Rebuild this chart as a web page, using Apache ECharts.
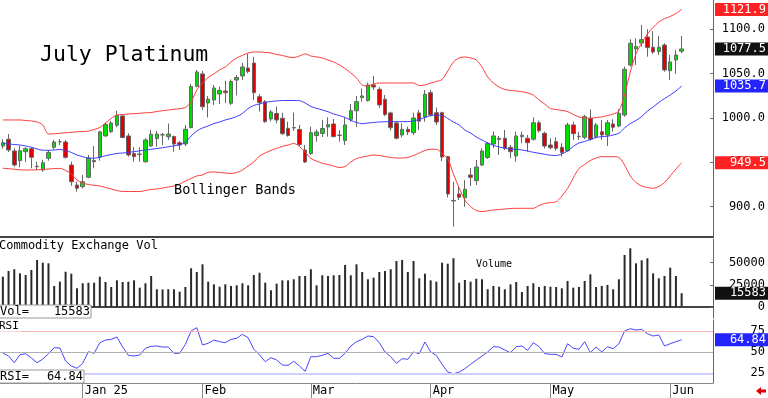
<!DOCTYPE html>
<html>
<head>
<meta charset="utf-8">
<script src="https://cdn.jsdelivr.net/npm/echarts@6/dist/echarts.min.js"></script>
<style>
  html, body { margin: 0; padding: 0; background: #fff; }
  #chart { width: 768px; height: 398px; }
</style>
</head>
<body>
<div id="chart"></div>
<script>
const FONT = "DejaVu Sans Mono"
const SLOTS = 125

const tickIndex = [14, 35, 54, 75, 96, 117]
const tickLabels = ["Jan 25", "Feb", "Mar", "Apr", "May", "Jun"]
const priceTicks = [900, 950, 1000, 1050, 1100]
const volumeTicks = [0, 25000, 50000]
const rsiTicks = [25, 50, 75]

const open = [968.3, 975.9, 962.7, 951.8, 961.9, 965.3, 945.5, 941.3, 954.5, 966.9,
  973.0, 972.8, 946.9, 924.4, 922.5, 933.1, 952.0, 955.9, 979.6, 984.4,
  991.6, 1002.1, 979.6, 959.9, 959.2, 950.6, 968.3, 976.8, 981.0, 978.8,
  979.0, 972.0, 970.6, 989.1, 1035.5, 1049.4, 1016.7, 1020.1, 1026.8, 1030.2,
  1016.4, 1042.6, 1047.1, 1056.1, 1061.7, 1023.8, 1018.2, 998.7, 1004.9, 999.5,
  988.2, 989.0, 986.9, 963.8, 959.9, 980.1, 982.4, 989.7, 993.1, 980.6,
  974.5, 998.4, 1008.0, 1022.9, 1019.5, 1037.0, 1032.1, 1020.9, 1005.5, 994.2,
  980.7, 987.1, 983.3, 1005.5, 1001.0, 1028.3, 1005.8, 1005.8, 956.3, 907.0,
  914.3, 910.1, 935.7, 929.3, 946.9, 955.4, 970.6, 975.6, 977.0, 966.9,
  957.1, 978.8, 977.0, 975.9, 994.5, 982.6, 969.4, 973.2, 966.9, 963.0,
  992.0, 979.3, 978.1, 999.5, 978.8, 984.4, 980.7, 993.1, 990.8, 1003.2,
  1059.5, 1077.5, 1084.2, 1091.0, 1079.4, 1074.5, 1082.0, 1053.1, 1065.1, 1075.0]

const close = [972.0, 963.8, 946.9, 963.0, 965.3, 955.6, 945.0, 949.5, 961.2, 972.8,
  973.2, 955.6, 928.1, 920.7, 928.1, 954.8, 950.6, 984.1, 992.5, 994.2,
  1002.6, 977.9, 958.2, 956.3, 958.7, 975.1, 981.5, 981.8, 980.7, 981.8,
  970.6, 969.4, 987.1, 1035.3, 1051.6, 1012.5, 1020.9, 1033.6, 1030.8, 1028.3,
  1040.9, 1045.4, 1057.2, 1052.2, 1028.3, 1017.3, 995.7, 1006.6, 997.6, 982.2,
  980.1, 988.6, 970.0, 950.3, 983.3, 984.1, 988.0, 992.3, 978.8, 980.1,
  992.0, 1008.0, 1018.2, 1024.6, 1037.0, 1034.7, 1014.5, 1003.8, 988.9, 977.0,
  987.1, 984.1, 999.8, 996.2, 1026.5, 1003.2, 995.3, 955.9, 914.3, 906.4,
  910.6, 919.6, 933.1, 944.7, 962.7, 971.1, 979.6, 977.0, 965.7, 961.9,
  979.6, 980.4, 972.0, 994.5, 985.5, 968.3, 966.4, 965.7, 960.8, 992.0,
  982.2, 978.8, 1001.3, 975.9, 992.0, 980.7, 994.5, 989.4, 1005.1, 1054.6,
  1083.9, 1080.3, 1088.0, 1079.2, 1074.1, 1079.4, 1053.9, 1062.9, 1070.7, 1077.5]

const low = [965.3, 961.6, 945.0, 944.3, 950.3, 943.2, 941.3, 939.4, 951.8, 964.6,
  969.4, 954.0, 923.6, 916.9, 920.7, 932.0, 943.2, 951.8, 978.8, 982.9,
  989.4, 977.0, 956.3, 950.6, 950.6, 949.5, 967.2, 967.5, 969.4, 975.1,
  961.9, 963.8, 968.3, 988.2, 1034.4, 1008.8, 1000.4, 1014.5, 1015.6, 1016.7,
  1014.5, 1025.2, 1042.6, 1050.1, 1020.1, 1006.9, 994.5, 995.9, 993.9, 980.7,
  978.8, 985.2, 968.3, 949.2, 958.2, 973.2, 978.4, 978.8, 978.1, 973.2,
  969.4, 995.7, 989.7, 1018.2, 1018.2, 1031.3, 1011.1, 1002.1, 985.5, 975.9,
  978.1, 980.7, 980.7, 986.3, 995.7, 1001.5, 992.0, 951.4, 910.4, 877.5,
  907.5, 900.0, 923.3, 924.4, 945.8, 953.7, 966.1, 958.2, 963.8, 954.5,
  950.6, 971.4, 961.9, 974.3, 983.3, 965.7, 964.6, 963.0, 956.3, 961.9,
  975.1, 975.1, 975.9, 974.3, 977.0, 975.1, 968.3, 984.4, 989.4, 1001.3,
  1057.6, 1059.5, 1080.1, 1068.8, 1071.9, 1070.7, 1051.9, 1042.6, 1049.4, 1072.7]

const high = [975.9, 981.8, 965.7, 968.3, 966.9, 966.9, 950.6, 952.6, 963.8, 975.1,
  975.9, 975.1, 950.6, 928.1, 935.7, 958.2, 968.3, 985.5, 994.5, 996.5,
  1008.0, 1003.2, 982.6, 967.2, 966.9, 977.0, 986.3, 985.2, 982.9, 993.6,
  980.1, 973.9, 992.0, 1038.1, 1053.9, 1052.7, 1024.6, 1037.0, 1035.1, 1041.5,
  1043.2, 1048.2, 1061.7, 1071.9, 1068.5, 1026.8, 1020.1, 1008.8, 1012.8, 1005.8,
  995.7, 1006.0, 992.0, 969.4, 990.0, 987.1, 997.6, 1000.6, 998.7, 986.3,
  1000.6, 1015.6, 1024.6, 1033.0, 1039.6, 1047.1, 1034.4, 1025.7, 1006.9, 995.7,
  993.9, 990.0, 1005.8, 1008.8, 1031.3, 1031.3, 1011.6, 1006.9, 957.1, 928.1,
  922.5, 930.0, 943.6, 952.6, 965.7, 972.8, 984.6, 979.6, 986.3, 969.4,
  984.4, 984.4, 980.7, 1000.6, 996.8, 984.4, 977.0, 978.1, 971.4, 994.5,
  995.7, 984.4, 1003.2, 1009.6, 994.5, 997.6, 997.6, 998.4, 1009.6, 1057.6,
  1088.4, 1089.5, 1104.5, 1099.7, 1097.7, 1092.1, 1083.9, 1070.7, 1076.4, 1092.1]

const upperBand = [997.6, 997.6, 997.6, 997.6, 997.0, 996.5, 995.3, 992.0, 981.8, 982.0,
  982.6, 983.2, 983.7, 984.3, 984.6, 985.0, 986.9, 989.1, 994.2, 999.3,
  1003.2, 1003.8, 1004.3, 1004.7, 1005.1, 1005.7, 1006.0, 1007.1, 1008.0, 1008.8,
  1009.6, 1010.3, 1011.6, 1017.8, 1031.3, 1039.2, 1045.4, 1049.4, 1053.9, 1057.2,
  1062.9, 1067.4, 1070.2, 1073.0, 1074.1, 1074.1, 1073.6, 1073.0, 1071.3, 1070.2,
  1068.5, 1067.9, 1069.6, 1071.9, 1069.6, 1068.5, 1067.4, 1065.1, 1062.9, 1059.5,
  1055.5, 1050.5, 1044.9, 1037.0, 1035.8, 1038.1, 1039.2, 1039.2, 1039.2, 1039.2,
  1039.2, 1039.2, 1039.2, 1036.4, 1037.0, 1039.2, 1040.9, 1043.2, 1052.7, 1062.9,
  1067.4, 1068.5, 1067.4, 1065.1, 1057.2, 1046.0, 1039.2, 1034.7, 1031.9, 1030.8,
  1030.2, 1029.4, 1028.0, 1025.7, 1020.1, 1015.6, 1010.5, 1009.4, 1008.3, 1007.1,
  1003.8, 1001.0, 999.8, 999.5, 1000.4, 1001.0, 1002.6, 1004.3, 1007.7, 1025.7,
  1051.6, 1071.9, 1084.2, 1094.4, 1101.7, 1107.9, 1111.6, 1114.1, 1117.4, 1121.9]

const middleBand = [971.1, 970.6, 970.0, 969.4, 968.3, 966.9, 964.9, 963.5, 963.5, 963.8,
  964.4, 963.3, 961.0, 958.2, 956.3, 954.8, 954.5, 955.7, 957.4, 958.7,
  959.9, 960.4, 961.2, 961.9, 962.9, 963.8, 964.6, 965.5, 966.4, 967.4,
  968.5, 969.8, 972.5, 979.6, 985.2, 988.6, 990.8, 993.6, 995.3, 997.6,
  999.3, 1001.5, 1004.9, 1010.5, 1013.9, 1015.6, 1017.3, 1018.4, 1019.0, 1019.5,
  1019.5, 1019.5, 1019.3, 1016.7, 1012.8, 1010.7, 1008.8, 1006.9, 1004.3, 1002.6,
  1000.4, 997.2, 994.8, 993.4, 994.2, 994.8, 995.3, 995.6, 995.7, 995.7,
  995.7, 995.7, 996.5, 998.1, 1000.4, 1002.6, 1003.0, 1002.6, 999.3, 995.3,
  992.0, 986.3, 982.9, 978.4, 975.1, 971.7, 969.1, 967.2, 966.1, 964.9,
  964.6, 963.8, 962.7, 961.2, 960.1, 959.0, 957.9, 957.6, 959.3, 962.7,
  967.8, 971.7, 973.4, 975.6, 977.9, 978.8, 979.3, 980.7, 982.6, 988.6,
  993.6, 997.0, 1001.5, 1007.7, 1012.2, 1017.3, 1021.6, 1025.7, 1030.2, 1035.7]

const lowerBand = [943.2, 942.8, 942.2, 941.5, 941.3, 941.3, 941.5, 941.9, 942.4, 942.9,
  943.1, 940.7, 936.8, 930.0, 926.7, 925.0, 924.1, 923.3, 921.6, 919.9,
  918.2, 917.1, 917.1, 917.1, 917.1, 918.2, 919.4, 919.9, 921.0, 922.2,
  923.3, 925.5, 928.9, 931.7, 934.6, 935.7, 938.7, 939.1, 938.5, 937.9,
  937.4, 938.5, 941.3, 945.8, 950.3, 957.1, 960.4, 963.3, 965.7, 967.8,
  969.4, 971.1, 967.8, 961.6, 954.2, 951.4, 948.8, 947.5, 945.8, 944.1,
  945.2, 950.3, 954.2, 955.9, 957.1, 958.2, 957.6, 956.5, 955.4, 954.8,
  954.8, 955.4, 957.6, 960.4, 963.3, 964.6, 964.6, 959.9, 953.7, 936.8,
  921.0, 907.5, 900.2, 895.7, 894.6, 895.2, 896.3, 896.8, 897.4, 898.0,
  898.2, 898.2, 898.2, 898.2, 901.3, 903.6, 904.7, 905.6, 912.0, 920.5,
  932.3, 943.0, 947.5, 952.0, 954.8, 956.3, 956.3, 956.3, 955.4, 946.9,
  934.6, 927.2, 923.3, 921.6, 920.7, 922.7, 927.2, 934.6, 942.4, 949.5]

const volume = [34200, 40600, 42600, 38000, 36100, 41800, 53100, 50000, 49300, 23700,
  28600, 39800, 37600, 21100, 26800, 27400, 27400, 34200, 28200, 22600,
  30100, 28200, 28600, 30100, 21800, 26800, 35000, 20000, 19800, 20100,
  20000, 17300, 22600, 43700, 39500, 48200, 28600, 25600, 22900, 25600,
  23700, 24500, 26800, 24500, 36100, 38700, 27400, 18900, 26300, 30100,
  30100, 31300, 35000, 35000, 42600, 24500, 35800, 35000, 35800, 36100,
  47400, 35800, 48200, 39500, 31300, 33100, 39500, 40600, 42600, 51900,
  53100, 39500, 51900, 32400, 37600, 30100, 28600, 50000, 48900, 55000,
  27400, 30500, 28600, 31900, 31300, 20000, 23700, 22900, 20000, 25600,
  28200, 16900, 23700, 26800, 22600, 23700, 22900, 22600, 21100, 29400,
  21800, 22600, 29400, 36900, 22600, 23700, 24800, 20000, 31300, 58700,
  66300, 49300, 52700, 55000, 38000, 32400, 35000, 44400, 35000, 15583]

const rsi = [49.2, 45.6, 37.6, 47.1, 48.3, 43.2, 37.6, 42.0, 48.3, 55.5,
  55.1, 39.6, 33.7, 31.0, 36.9, 50.7, 48.8, 61.4, 64.6, 65.4,
  68.2, 56.3, 46.4, 45.6, 46.8, 54.8, 57.1, 57.5, 56.3, 56.3,
  48.8, 48.8, 59.5, 75.4, 79.3, 58.7, 60.7, 64.6, 62.6, 61.4,
  65.4, 66.7, 71.4, 67.4, 53.6, 46.8, 38.8, 43.6, 40.8, 34.9,
  34.5, 39.3, 33.7, 27.4, 44.8, 44.8, 46.4, 48.8, 42.9, 42.9,
  48.8, 57.5, 62.6, 65.4, 69.4, 68.6, 61.4, 50.4, 44.8, 36.9,
  42.4, 41.7, 50.4, 48.3, 62.3, 50.4, 46.4, 35.7, 26.5, 24.5,
  26.5, 30.5, 35.7, 40.8, 45.6, 50.4, 56.7, 56.3, 52.7, 49.5,
  56.7, 57.5, 52.4, 61.4, 56.7, 48.3, 47.6, 47.6, 44.4, 60.2,
  54.8, 53.6, 62.6, 49.5, 56.3, 50.4, 56.7, 54.3, 60.2, 75.4,
  78.1, 76.5, 77.4, 72.1, 69.4, 70.6, 57.5, 60.2, 62.6, 64.84]

const slots = Array.from({ length: SLOTS }, (_v, i) => String(i))
const candles = open.map((o, i) => [o, close[i], low[i], high[i]])
const last = close.length - 1

const chart = echarts.init(document.getElementById("chart"), null, { renderer: "canvas" })

function xAxis(gridIndex, opts) {
  return Object.assign({
    type: "category",
    gridIndex,
    data: slots,
    boundaryGap: true,
    axisLine: { show: true, lineStyle: { color: "#444", width: 2 } },
    axisTick: { show: false },
    axisLabel: { show: false },
    splitLine: { show: false }
  }, opts)
}

function yAxis(gridIndex, min, max, ticks, formatter) {
  return {
    type: "value",
    gridIndex,
    position: "right",
    min,
    max,
    axisLine: { show: true, lineStyle: { color: "#666", width: 1 } },
    axisTick: { show: true, inside: true, length: 3, customValues: ticks, lineStyle: { color: "#666" } },
    axisLabel: {
      show: true,
      customValues: ticks,
      formatter,
      align: "right",
      margin: 52,
      color: "#000",
      fontFamily: FONT,
      fontSize: 12
    },
    splitLine: { show: false }
  }
}

function label(text, x, y, size, z, extra) {
  return {
    type: "text",
    z,
    style: Object.assign({
      text,
      x,
      y,
      fill: "#000",
      font: `${size}px "${FONT}"`,
      align: "left",
      textAlign: "left",
      verticalAlign: "middle",
      textVerticalAlign: "middle"
    }, extra || {})
  }
}

function readoutBox(name, value, width, y) {
  return [
    { type: "rect", z: 60, shape: { x: -1, y, width, height: 13 }, style: { fill: "#fff", stroke: "#999", lineWidth: 1 } },
    label(name, 0, y + 6.5, 12, 61),
    label(value, width - 2, y + 6.5, 12, 61, { align: "right", textAlign: "right" })
  ]
}

chart.setOption({
  animation: false,
  backgroundColor: "#fff",
  grid: [
    { left: 0, right: 54, top: 0, height: 237 },
    { left: 0, right: 54, top: 239, height: 79 },
    { left: 0, right: 54, top: 320, height: 63 }
  ],
  xAxis: [
    xAxis(0),
    xAxis(1),
    xAxis(2, {
      axisLine: { show: true, lineStyle: { color: "#888", width: 1 } },
      axisTick: {
        show: true,
        alignWithLabel: true,
        length: 15,
        interval: (index) => tickIndex.includes(index),
        lineStyle: { color: "#888" }
      },
      axisLabel: {
        show: true,
        interval: (index) => tickIndex.includes(index),
        formatter: (_value, index) => tickLabels[tickIndex.indexOf(index)] || "",
        align: "left",
        margin: 2,
        padding: [0, 0, 0, 2],
        color: "#000",
        fontFamily: FONT,
        fontSize: 12
      }
    })
  ],
  yAxis: [
    yAxis(0, 865.9, 1132.6, priceTicks, (v) => v.toFixed(1)),
    yAxis(1, -12416, 76750, volumeTicks, (v) => String(v)),
    yAxis(2, 13.45, 88.45, rsiTicks, (v) => String(v))
  ],
  series: [
    {
      name: "Upper",
      type: "line",
      data: upperBand,
      symbol: "none",
      smooth: 0.3,
      lineStyle: { color: "#ff3b3b", width: 1 }
    },
    {
      name: "Middle",
      type: "line",
      data: middleBand,
      symbol: "none",
      smooth: 0.3,
      lineStyle: { color: "#3b3bff", width: 1 }
    },
    {
      name: "Lower",
      type: "line",
      data: lowerBand,
      symbol: "none",
      smooth: 0.3,
      lineStyle: { color: "#ff3b3b", width: 1 }
    },
    {
      name: "July Platinum",
      type: "candlestick",
      data: candles,
      barWidth: 4,
      itemStyle: {
        color: "#00dd00",
        color0: "#e00000",
        borderColor: "#666",
        borderColor0: "#666",
        borderWidth: 1
      }
    },
    {
      name: "Volume",
      type: "bar",
      xAxisIndex: 1,
      yAxisIndex: 1,
      data: volume,
      barWidth: 2,
      itemStyle: { color: "#2a2a2a" }
    },
    {
      name: "RSI",
      type: "line",
      xAxisIndex: 2,
      yAxisIndex: 2,
      data: rsi,
      symbol: "none",
      lineStyle: { color: "#4646ff", width: 1 },
      markLine: {
        silent: true,
        symbol: "none",
        label: { show: false },
        data: [
          { yAxis: 75, lineStyle: { color: "#f6b4b4", width: 1, type: "solid" } },
          { yAxis: 50, lineStyle: { color: "#b0b0b0", width: 1, type: "solid" } },
          { yAxis: 25, lineStyle: { color: "#cdd0ff", width: 2, type: "solid" } }
        ]
      }
    }
  ]
})

function valueBox(yAxisIndex, value, text, fill) {
  const y = chart.convertToPixel({ yAxisIndex }, value)
  return [
    { type: "rect", z: 100, shape: { x: 715, y: y - 6.5, width: 53, height: 13 }, style: { fill } },
    label(text, 766, y, 12, 101, { fill: "#fff", align: "right", textAlign: "right" })
  ]
}

chart.setOption({
  graphic: [
    label("July Platinum", 40, 55, 21.5, 50),
    label("Bollinger Bands", 174, 190, 13.5, 50),
    label("Commodity Exchange Vol", -1, 246, 12, 50),
    label("Volume", 476, 264, 10, 50),
    label("RSI", -1, 326, 11, 50, { backgroundColor: "#fff", padding: [0, 3, 0, 0] }),
    ...readoutBox("Vol=", String(volume[last]), 92, 305),
    ...readoutBox("RSI=", rsi[last].toFixed(2), 85, 370),
    ...valueBox(0, upperBand[last], upperBand[last].toFixed(1), "#ff2222"),
    ...valueBox(0, close[last], close[last].toFixed(1), "#111"),
    ...valueBox(0, middleBand[last], middleBand[last].toFixed(1), "#2424ff"),
    ...valueBox(0, lowerBand[last], lowerBand[last].toFixed(1), "#ff2222"),
    ...valueBox(1, volume[last], String(volume[last]), "#111"),
    ...valueBox(2, rsi[last], rsi[last].toFixed(2), "#2424ff"),
    {
      type: "polygon",
      z: 100,
      shape: { points: [[756, 391], [761, 387], [761, 389.5], [766, 389.5], [766, 392.5], [761, 392.5], [761, 395]] },
      style: { fill: "#e00000" }
    }
  ]
})
</script>
</body>
</html>
